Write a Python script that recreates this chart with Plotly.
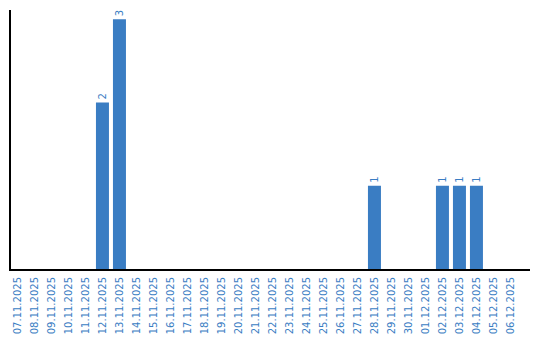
import plotly.graph_objects as go

dates = ["07.11.2025","08.11.2025","09.11.2025","10.11.2025","11.11.2025","12.11.2025",
         "13.11.2025","14.11.2025","15.11.2025","16.11.2025","17.11.2025","18.11.2025",
         "19.11.2025","20.11.2025","21.11.2025","22.11.2025","23.11.2025","24.11.2025",
         "25.11.2025","26.11.2025","27.11.2025","28.11.2025","29.11.2025","30.11.2025",
         "01.12.2025","02.12.2025","03.12.2025","04.12.2025","05.12.2025","06.12.2025"]
counts = [0,0,0,0,0,2,3,0,0,0,0,0,0,0,0,0,0,0,0,0,0,1,0,0,0,1,1,1,0,0]
labels = [str(c) if c else "" for c in counts]

blue = "#3a7dc3"
fig = go.Figure(go.Bar(
    x=list(range(len(dates))), y=counts, text=labels, textposition="outside",
    textangle=-90, cliponaxis=False,
    textfont=dict(family="DejaVu Sans", size=10, color=blue),
    marker=dict(color=blue, line=dict(width=0)), width=0.765,
))
fig.update_layout(
    width=540, height=340, margin=dict(l=11, r=10, t=10, b=71, autoexpand=False),
    paper_bgcolor="white", plot_bgcolor="white", showlegend=False,
    xaxis=dict(tickmode="array", tickvals=list(range(len(dates))), ticktext=dates,
               tickangle=-90, range=[-0.38, 30.15], showline=True, linecolor="black",
               linewidth=2, showgrid=False, zeroline=False, ticks="", automargin=False,
               ticklabelstandoff=2,
               tickfont=dict(family="DejaVu Sans", size=10, color=blue)),
    yaxis=dict(range=[0, 3.11], showline=True, linecolor="black", linewidth=2,
               showgrid=False, zeroline=False, showticklabels=False, ticks="",
               automargin=False),
)
fig.write_html("out.html")
